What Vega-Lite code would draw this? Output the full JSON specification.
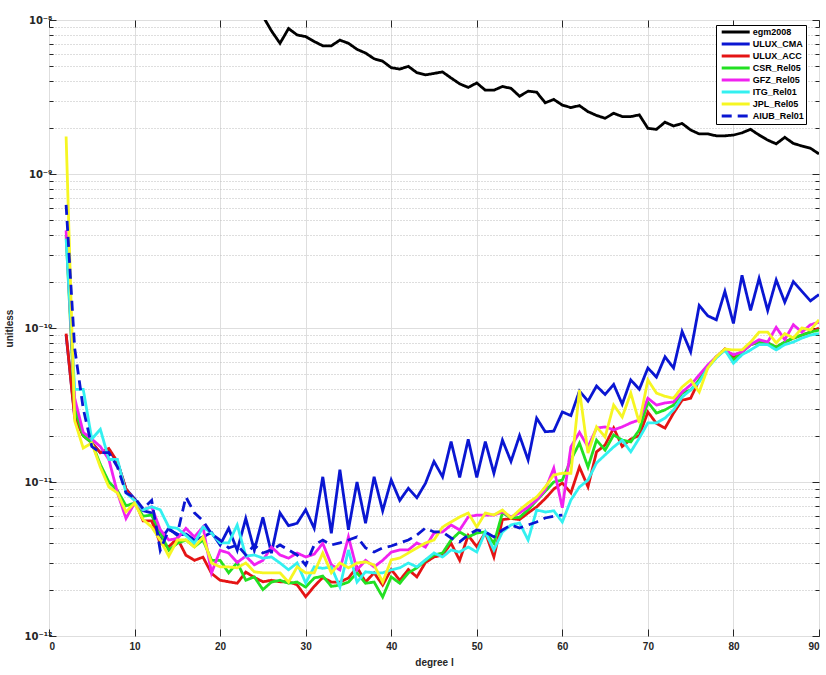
{
"$schema": "https://vega.github.io/schema/vega-lite/v6.json",
"width": 770, "height": 616,
"autosize": {"type": "none"},
"padding": {"left": 49, "top": 20, "right": 7, "bottom": 39},
"background": "white",
"config": {
  "view": {"stroke": "#262626", "strokeWidth": 1},
  "font": "Liberation Sans",
  "axis": {"labelFont": "Liberation Sans", "labelFontWeight": "bold", "labelFontSize": 10, "labelColor": "#262626", "titleFont": "Liberation Sans", "titleFontWeight": "bold", "titleFontSize": 10, "titleColor": "#262626", "tickColor": "#262626", "tickWidth": 1, "domain": false},
  "legend": {"orient": "none", "legendX": 667, "legendY": 5, "title": null, "fillColor": "white", "strokeColor": "#000000", "padding": 2, "symbolType": "M-4,0H4", "symbolSize": 49, "symbolStrokeWidth": 3, "symbolOffset": 12.7, "labelFont": "Liberation Sans", "labelFontSize": 9, "labelFontWeight": "bold", "labelColor": "#000000", "labelOffset": 12, "rowPadding": 0}
},
"data": {"values": [
{"l":20,"s":"egm2008","v":3.0e-8},{"l":21,"s":"egm2008","v":2.4e-8},{"l":22,"s":"egm2008","v":1.9e-8},{"l":23,"s":"egm2008","v":1.5e-8},{"l":24,"s":"egm2008","v":1.2e-8},{"l":25,"s":"egm2008","v":1.06e-8},{"l":26,"s":"egm2008","v":8.5e-9},{"l":27,"s":"egm2008","v":7.06e-9},{"l":28,"s":"egm2008","v":8.8e-9},{"l":29,"s":"egm2008","v":8.0e-9},{"l":30,"s":"egm2008","v":7.8e-9},{"l":31,"s":"egm2008","v":7.25e-9},{"l":32,"s":"egm2008","v":6.8e-9},{"l":33,"s":"egm2008","v":6.8e-9},{"l":34,"s":"egm2008","v":7.4e-9},{"l":35,"s":"egm2008","v":7.06e-9},{"l":36,"s":"egm2008","v":6.45e-9},{"l":37,"s":"egm2008","v":6.1e-9},{"l":38,"s":"egm2008","v":5.6e-9},{"l":39,"s":"egm2008","v":5.4e-9},{"l":40,"s":"egm2008","v":4.9e-9},{"l":41,"s":"egm2008","v":4.8e-9},{"l":42,"s":"egm2008","v":5.0e-9},{"l":43,"s":"egm2008","v":4.55e-9},{"l":44,"s":"egm2008","v":4.4e-9},{"l":45,"s":"egm2008","v":4.5e-9},{"l":46,"s":"egm2008","v":4.6e-9},{"l":47,"s":"egm2008","v":4.2e-9},{"l":48,"s":"egm2008","v":3.85e-9},{"l":49,"s":"egm2008","v":3.65e-9},{"l":50,"s":"egm2008","v":3.9e-9},{"l":51,"s":"egm2008","v":3.5e-9},{"l":52,"s":"egm2008","v":3.5e-9},{"l":53,"s":"egm2008","v":3.7e-9},{"l":54,"s":"egm2008","v":3.6e-9},{"l":55,"s":"egm2008","v":3.2e-9},{"l":56,"s":"egm2008","v":3.45e-9},{"l":57,"s":"egm2008","v":3.4e-9},{"l":58,"s":"egm2008","v":2.9e-9},{"l":59,"s":"egm2008","v":3.05e-9},{"l":60,"s":"egm2008","v":2.8e-9},{"l":61,"s":"egm2008","v":2.7e-9},{"l":62,"s":"egm2008","v":2.78e-9},{"l":63,"s":"egm2008","v":2.54e-9},{"l":64,"s":"egm2008","v":2.4e-9},{"l":65,"s":"egm2008","v":2.3e-9},{"l":66,"s":"egm2008","v":2.48e-9},{"l":67,"s":"egm2008","v":2.36e-9},{"l":68,"s":"egm2008","v":2.36e-9},{"l":69,"s":"egm2008","v":2.42e-9},{"l":70,"s":"egm2008","v":1.98e-9},{"l":71,"s":"egm2008","v":1.95e-9},{"l":72,"s":"egm2008","v":2.17e-9},{"l":73,"s":"egm2008","v":2.05e-9},{"l":74,"s":"egm2008","v":2.13e-9},{"l":75,"s":"egm2008","v":1.93e-9},{"l":76,"s":"egm2008","v":1.82e-9},{"l":77,"s":"egm2008","v":1.82e-9},{"l":78,"s":"egm2008","v":1.77e-9},{"l":79,"s":"egm2008","v":1.77e-9},{"l":80,"s":"egm2008","v":1.79e-9},{"l":81,"s":"egm2008","v":1.85e-9},{"l":82,"s":"egm2008","v":1.95e-9},{"l":83,"s":"egm2008","v":1.79e-9},{"l":84,"s":"egm2008","v":1.66e-9},{"l":85,"s":"egm2008","v":1.57e-9},{"l":86,"s":"egm2008","v":1.73e-9},{"l":87,"s":"egm2008","v":1.58e-9},{"l":88,"s":"egm2008","v":1.52e-9},{"l":89,"s":"egm2008","v":1.47e-9},{"l":90,"s":"egm2008","v":1.35e-9},
{"l":2,"s":"ULUX_CMA","v":9.0e-11},{"l":3,"s":"ULUX_CMA","v":2.7e-11},{"l":4,"s":"ULUX_CMA","v":2.0e-11},{"l":5,"s":"ULUX_CMA","v":1.8e-11},{"l":6,"s":"ULUX_CMA","v":1.55e-11},{"l":7,"s":"ULUX_CMA","v":1.6e-11},{"l":8,"s":"ULUX_CMA","v":1.35e-11},{"l":9,"s":"ULUX_CMA","v":9.0e-12},{"l":10,"s":"ULUX_CMA","v":7.8e-12},{"l":11,"s":"ULUX_CMA","v":6.5e-12},{"l":12,"s":"ULUX_CMA","v":6.3e-12},{"l":13,"s":"ULUX_CMA","v":4.2e-12},{"l":14,"s":"ULUX_CMA","v":5.0e-12},{"l":15,"s":"ULUX_CMA","v":4.5e-12},{"l":16,"s":"ULUX_CMA","v":4.6e-12},{"l":17,"s":"ULUX_CMA","v":4.2e-12},{"l":18,"s":"ULUX_CMA","v":4.4e-12},{"l":19,"s":"ULUX_CMA","v":4.7e-12},{"l":20,"s":"ULUX_CMA","v":3.9e-12},{"l":21,"s":"ULUX_CMA","v":5.0e-12},{"l":22,"s":"ULUX_CMA","v":3.6e-12},{"l":23,"s":"ULUX_CMA","v":5.8e-12},{"l":24,"s":"ULUX_CMA","v":3.6e-12},{"l":25,"s":"ULUX_CMA","v":5.9e-12},{"l":26,"s":"ULUX_CMA","v":3.45e-12},{"l":27,"s":"ULUX_CMA","v":6.3e-12},{"l":28,"s":"ULUX_CMA","v":5.2e-12},{"l":29,"s":"ULUX_CMA","v":5.4e-12},{"l":30,"s":"ULUX_CMA","v":6.6e-12},{"l":31,"s":"ULUX_CMA","v":5.0e-12},{"l":32,"s":"ULUX_CMA","v":1.08e-11},{"l":33,"s":"ULUX_CMA","v":4.65e-12},{"l":34,"s":"ULUX_CMA","v":1.2e-11},{"l":35,"s":"ULUX_CMA","v":4.9e-12},{"l":36,"s":"ULUX_CMA","v":1.0e-11},{"l":37,"s":"ULUX_CMA","v":5.4e-12},{"l":38,"s":"ULUX_CMA","v":1.08e-11},{"l":39,"s":"ULUX_CMA","v":6.5e-12},{"l":40,"s":"ULUX_CMA","v":1.03e-11},{"l":41,"s":"ULUX_CMA","v":7.6e-12},{"l":42,"s":"ULUX_CMA","v":9.1e-12},{"l":43,"s":"ULUX_CMA","v":7.9e-12},{"l":44,"s":"ULUX_CMA","v":9.8e-12},{"l":45,"s":"ULUX_CMA","v":1.36e-11},{"l":46,"s":"ULUX_CMA","v":1.08e-11},{"l":47,"s":"ULUX_CMA","v":1.83e-11},{"l":48,"s":"ULUX_CMA","v":1.07e-11},{"l":49,"s":"ULUX_CMA","v":1.89e-11},{"l":50,"s":"ULUX_CMA","v":1.07e-11},{"l":51,"s":"ULUX_CMA","v":1.83e-11},{"l":52,"s":"ULUX_CMA","v":1.14e-11},{"l":53,"s":"ULUX_CMA","v":1.87e-11},{"l":54,"s":"ULUX_CMA","v":1.36e-11},{"l":55,"s":"ULUX_CMA","v":2.0e-11},{"l":56,"s":"ULUX_CMA","v":1.39e-11},{"l":57,"s":"ULUX_CMA","v":2.6e-11},{"l":58,"s":"ULUX_CMA","v":2.12e-11},{"l":59,"s":"ULUX_CMA","v":2.14e-11},{"l":60,"s":"ULUX_CMA","v":2.85e-11},{"l":61,"s":"ULUX_CMA","v":2.7e-11},{"l":62,"s":"ULUX_CMA","v":3.9e-11},{"l":63,"s":"ULUX_CMA","v":3.35e-11},{"l":64,"s":"ULUX_CMA","v":4.2e-11},{"l":65,"s":"ULUX_CMA","v":3.7e-11},{"l":66,"s":"ULUX_CMA","v":4.3e-11},{"l":67,"s":"ULUX_CMA","v":3.2e-11},{"l":68,"s":"ULUX_CMA","v":4.6e-11},{"l":69,"s":"ULUX_CMA","v":4.0e-11},{"l":70,"s":"ULUX_CMA","v":5.5e-11},{"l":71,"s":"ULUX_CMA","v":4.8e-11},{"l":72,"s":"ULUX_CMA","v":6.5e-11},{"l":73,"s":"ULUX_CMA","v":5.5e-11},{"l":74,"s":"ULUX_CMA","v":9.5e-11},{"l":75,"s":"ULUX_CMA","v":7.0e-11},{"l":76,"s":"ULUX_CMA","v":1.4e-10},{"l":77,"s":"ULUX_CMA","v":1.2e-10},{"l":78,"s":"ULUX_CMA","v":1.13e-10},{"l":79,"s":"ULUX_CMA","v":1.73e-10},{"l":80,"s":"ULUX_CMA","v":1.07e-10},{"l":81,"s":"ULUX_CMA","v":2.2e-10},{"l":82,"s":"ULUX_CMA","v":1.3e-10},{"l":83,"s":"ULUX_CMA","v":2.1e-10},{"l":84,"s":"ULUX_CMA","v":1.3e-10},{"l":85,"s":"ULUX_CMA","v":2.05e-10},{"l":86,"s":"ULUX_CMA","v":1.47e-10},{"l":87,"s":"ULUX_CMA","v":2.0e-10},{"l":88,"s":"ULUX_CMA","v":1.73e-10},{"l":89,"s":"ULUX_CMA","v":1.5e-10},{"l":90,"s":"ULUX_CMA","v":1.65e-10},
{"l":2,"s":"ULUX_ACC","v":9.2e-11},{"l":3,"s":"ULUX_ACC","v":2.6e-11},{"l":4,"s":"ULUX_ACC","v":2.0e-11},{"l":5,"s":"ULUX_ACC","v":1.8e-11},{"l":6,"s":"ULUX_ACC","v":1.55e-11},{"l":7,"s":"ULUX_ACC","v":1.65e-11},{"l":8,"s":"ULUX_ACC","v":1.35e-11},{"l":9,"s":"ULUX_ACC","v":9.0e-12},{"l":10,"s":"ULUX_ACC","v":7.6e-12},{"l":11,"s":"ULUX_ACC","v":5.6e-12},{"l":12,"s":"ULUX_ACC","v":5.6e-12},{"l":13,"s":"ULUX_ACC","v":4.0e-12},{"l":14,"s":"ULUX_ACC","v":3.8e-12},{"l":15,"s":"ULUX_ACC","v":4.3e-12},{"l":16,"s":"ULUX_ACC","v":3.35e-12},{"l":17,"s":"ULUX_ACC","v":3.1e-12},{"l":18,"s":"ULUX_ACC","v":3.25e-12},{"l":19,"s":"ULUX_ACC","v":2.55e-12},{"l":20,"s":"ULUX_ACC","v":2.3e-12},{"l":21,"s":"ULUX_ACC","v":2.25e-12},{"l":22,"s":"ULUX_ACC","v":2.2e-12},{"l":23,"s":"ULUX_ACC","v":2.6e-12},{"l":24,"s":"ULUX_ACC","v":2.4e-12},{"l":25,"s":"ULUX_ACC","v":2.25e-12},{"l":26,"s":"ULUX_ACC","v":2.3e-12},{"l":27,"s":"ULUX_ACC","v":2.25e-12},{"l":28,"s":"ULUX_ACC","v":2.25e-12},{"l":29,"s":"ULUX_ACC","v":2.15e-12},{"l":30,"s":"ULUX_ACC","v":1.8e-12},{"l":31,"s":"ULUX_ACC","v":2.1e-12},{"l":32,"s":"ULUX_ACC","v":2.4e-12},{"l":33,"s":"ULUX_ACC","v":2.24e-12},{"l":34,"s":"ULUX_ACC","v":2.24e-12},{"l":35,"s":"ULUX_ACC","v":2.38e-12},{"l":36,"s":"ULUX_ACC","v":2.8e-12},{"l":37,"s":"ULUX_ACC","v":2.24e-12},{"l":38,"s":"ULUX_ACC","v":2.57e-12},{"l":39,"s":"ULUX_ACC","v":2.14e-12},{"l":40,"s":"ULUX_ACC","v":2.7e-12},{"l":41,"s":"ULUX_ACC","v":2.3e-12},{"l":42,"s":"ULUX_ACC","v":2.7e-12},{"l":43,"s":"ULUX_ACC","v":2.42e-12},{"l":44,"s":"ULUX_ACC","v":3.0e-12},{"l":45,"s":"ULUX_ACC","v":3.26e-12},{"l":46,"s":"ULUX_ACC","v":3.36e-12},{"l":47,"s":"ULUX_ACC","v":4.0e-12},{"l":48,"s":"ULUX_ACC","v":3.1e-12},{"l":49,"s":"ULUX_ACC","v":4.5e-12},{"l":50,"s":"ULUX_ACC","v":3.8e-12},{"l":51,"s":"ULUX_ACC","v":4.7e-12},{"l":52,"s":"ULUX_ACC","v":3.26e-12},{"l":53,"s":"ULUX_ACC","v":5.7e-12},{"l":54,"s":"ULUX_ACC","v":5.8e-12},{"l":55,"s":"ULUX_ACC","v":5.7e-12},{"l":56,"s":"ULUX_ACC","v":6.3e-12},{"l":57,"s":"ULUX_ACC","v":6.9e-12},{"l":58,"s":"ULUX_ACC","v":7.8e-12},{"l":59,"s":"ULUX_ACC","v":9.0e-12},{"l":60,"s":"ULUX_ACC","v":9.85e-12},{"l":61,"s":"ULUX_ACC","v":8.5e-12},{"l":62,"s":"ULUX_ACC","v":1.25e-11},{"l":63,"s":"ULUX_ACC","v":9.3e-12},{"l":64,"s":"ULUX_ACC","v":1.57e-11},{"l":65,"s":"ULUX_ACC","v":1.74e-11},{"l":66,"s":"ULUX_ACC","v":2.24e-11},{"l":67,"s":"ULUX_ACC","v":1.7e-11},{"l":68,"s":"ULUX_ACC","v":1.9e-11},{"l":69,"s":"ULUX_ACC","v":2.0e-11},{"l":70,"s":"ULUX_ACC","v":2.85e-11},{"l":71,"s":"ULUX_ACC","v":2.4e-11},{"l":72,"s":"ULUX_ACC","v":2.24e-11},{"l":73,"s":"ULUX_ACC","v":2.8e-11},{"l":74,"s":"ULUX_ACC","v":3.4e-11},{"l":75,"s":"ULUX_ACC","v":3.5e-11},{"l":76,"s":"ULUX_ACC","v":4.6e-11},{"l":77,"s":"ULUX_ACC","v":5.6e-11},{"l":78,"s":"ULUX_ACC","v":6.5e-11},{"l":79,"s":"ULUX_ACC","v":7.3e-11},{"l":80,"s":"ULUX_ACC","v":6.4e-11},{"l":81,"s":"ULUX_ACC","v":7.0e-11},{"l":82,"s":"ULUX_ACC","v":7.8e-11},{"l":83,"s":"ULUX_ACC","v":8.1e-11},{"l":84,"s":"ULUX_ACC","v":8.0e-11},{"l":85,"s":"ULUX_ACC","v":7.5e-11},{"l":86,"s":"ULUX_ACC","v":8.1e-11},{"l":87,"s":"ULUX_ACC","v":8.6e-11},{"l":88,"s":"ULUX_ACC","v":9.0e-11},{"l":89,"s":"ULUX_ACC","v":9.4e-11},{"l":90,"s":"ULUX_ACC","v":1.0e-10},
{"l":2,"s":"CSR_Rel05","v":4.0e-10},{"l":3,"s":"CSR_Rel05","v":3.0e-11},{"l":4,"s":"CSR_Rel05","v":2.0e-11},{"l":5,"s":"CSR_Rel05","v":1.8e-11},{"l":6,"s":"CSR_Rel05","v":1.3e-11},{"l":7,"s":"CSR_Rel05","v":1.0e-11},{"l":8,"s":"CSR_Rel05","v":8.8e-12},{"l":9,"s":"CSR_Rel05","v":7.0e-12},{"l":10,"s":"CSR_Rel05","v":7.3e-12},{"l":11,"s":"CSR_Rel05","v":6.0e-12},{"l":12,"s":"CSR_Rel05","v":6.1e-12},{"l":13,"s":"CSR_Rel05","v":4.7e-12},{"l":14,"s":"CSR_Rel05","v":3.6e-12},{"l":15,"s":"CSR_Rel05","v":4.0e-12},{"l":16,"s":"CSR_Rel05","v":4.2e-12},{"l":17,"s":"CSR_Rel05","v":3.8e-12},{"l":18,"s":"CSR_Rel05","v":4.2e-12},{"l":19,"s":"CSR_Rel05","v":3.1e-12},{"l":20,"s":"CSR_Rel05","v":3.1e-12},{"l":21,"s":"CSR_Rel05","v":2.57e-12},{"l":22,"s":"CSR_Rel05","v":3.0e-12},{"l":23,"s":"CSR_Rel05","v":2.3e-12},{"l":24,"s":"CSR_Rel05","v":2.42e-12},{"l":25,"s":"CSR_Rel05","v":2.0e-12},{"l":26,"s":"CSR_Rel05","v":2.24e-12},{"l":27,"s":"CSR_Rel05","v":2.3e-12},{"l":28,"s":"CSR_Rel05","v":2.2e-12},{"l":29,"s":"CSR_Rel05","v":2.24e-12},{"l":30,"s":"CSR_Rel05","v":2.08e-12},{"l":31,"s":"CSR_Rel05","v":2.38e-12},{"l":32,"s":"CSR_Rel05","v":2.45e-12},{"l":33,"s":"CSR_Rel05","v":2.1e-12},{"l":34,"s":"CSR_Rel05","v":2.14e-12},{"l":35,"s":"CSR_Rel05","v":2.24e-12},{"l":36,"s":"CSR_Rel05","v":2.57e-12},{"l":37,"s":"CSR_Rel05","v":2.2e-12},{"l":38,"s":"CSR_Rel05","v":2.24e-12},{"l":39,"s":"CSR_Rel05","v":1.79e-12},{"l":40,"s":"CSR_Rel05","v":2.42e-12},{"l":41,"s":"CSR_Rel05","v":2.2e-12},{"l":42,"s":"CSR_Rel05","v":2.57e-12},{"l":43,"s":"CSR_Rel05","v":2.77e-12},{"l":44,"s":"CSR_Rel05","v":3.1e-12},{"l":45,"s":"CSR_Rel05","v":3.36e-12},{"l":46,"s":"CSR_Rel05","v":3.46e-12},{"l":47,"s":"CSR_Rel05","v":4.2e-12},{"l":48,"s":"CSR_Rel05","v":4.74e-12},{"l":49,"s":"CSR_Rel05","v":4.4e-12},{"l":50,"s":"CSR_Rel05","v":4.66e-12},{"l":51,"s":"CSR_Rel05","v":4.74e-12},{"l":52,"s":"CSR_Rel05","v":4.0e-12},{"l":53,"s":"CSR_Rel05","v":6.3e-12},{"l":54,"s":"CSR_Rel05","v":5.84e-12},{"l":55,"s":"CSR_Rel05","v":5.9e-12},{"l":56,"s":"CSR_Rel05","v":6.6e-12},{"l":57,"s":"CSR_Rel05","v":7.6e-12},{"l":58,"s":"CSR_Rel05","v":8.7e-12},{"l":59,"s":"CSR_Rel05","v":1.0e-11},{"l":60,"s":"CSR_Rel05","v":1.03e-11},{"l":61,"s":"CSR_Rel05","v":1.39e-11},{"l":62,"s":"CSR_Rel05","v":1.79e-11},{"l":63,"s":"CSR_Rel05","v":1.25e-11},{"l":64,"s":"CSR_Rel05","v":1.87e-11},{"l":65,"s":"CSR_Rel05","v":1.61e-11},{"l":66,"s":"CSR_Rel05","v":2.02e-11},{"l":67,"s":"CSR_Rel05","v":1.87e-11},{"l":68,"s":"CSR_Rel05","v":1.82e-11},{"l":69,"s":"CSR_Rel05","v":2.18e-11},{"l":70,"s":"CSR_Rel05","v":3.3e-11},{"l":71,"s":"CSR_Rel05","v":2.8e-11},{"l":72,"s":"CSR_Rel05","v":2.94e-11},{"l":73,"s":"CSR_Rel05","v":3.16e-11},{"l":74,"s":"CSR_Rel05","v":3.78e-11},{"l":75,"s":"CSR_Rel05","v":3.96e-11},{"l":76,"s":"CSR_Rel05","v":4.6e-11},{"l":77,"s":"CSR_Rel05","v":5.58e-11},{"l":78,"s":"CSR_Rel05","v":6.48e-11},{"l":79,"s":"CSR_Rel05","v":7.2e-11},{"l":80,"s":"CSR_Rel05","v":6.2e-11},{"l":81,"s":"CSR_Rel05","v":7.0e-11},{"l":82,"s":"CSR_Rel05","v":7.8e-11},{"l":83,"s":"CSR_Rel05","v":8.1e-11},{"l":84,"s":"CSR_Rel05","v":8.0e-11},{"l":85,"s":"CSR_Rel05","v":7.5e-11},{"l":86,"s":"CSR_Rel05","v":8.1e-11},{"l":87,"s":"CSR_Rel05","v":8.6e-11},{"l":88,"s":"CSR_Rel05","v":9.0e-11},{"l":89,"s":"CSR_Rel05","v":9.4e-11},{"l":90,"s":"CSR_Rel05","v":9.7e-11},
{"l":2,"s":"GFZ_Rel05","v":4.3e-10},{"l":3,"s":"GFZ_Rel05","v":3.5e-11},{"l":4,"s":"GFZ_Rel05","v":2.1e-11},{"l":5,"s":"GFZ_Rel05","v":1.9e-11},{"l":6,"s":"GFZ_Rel05","v":1.7e-11},{"l":7,"s":"GFZ_Rel05","v":1.4e-11},{"l":8,"s":"GFZ_Rel05","v":8.5e-12},{"l":9,"s":"GFZ_Rel05","v":5.8e-12},{"l":10,"s":"GFZ_Rel05","v":7.3e-12},{"l":11,"s":"GFZ_Rel05","v":6.6e-12},{"l":12,"s":"GFZ_Rel05","v":6.9e-12},{"l":13,"s":"GFZ_Rel05","v":4.9e-12},{"l":14,"s":"GFZ_Rel05","v":4.2e-12},{"l":15,"s":"GFZ_Rel05","v":4.3e-12},{"l":16,"s":"GFZ_Rel05","v":5.0e-12},{"l":17,"s":"GFZ_Rel05","v":4.4e-12},{"l":18,"s":"GFZ_Rel05","v":5.1e-12},{"l":19,"s":"GFZ_Rel05","v":2.57e-12},{"l":20,"s":"GFZ_Rel05","v":3.6e-12},{"l":21,"s":"GFZ_Rel05","v":3.46e-12},{"l":22,"s":"GFZ_Rel05","v":3.0e-12},{"l":23,"s":"GFZ_Rel05","v":3.3e-12},{"l":24,"s":"GFZ_Rel05","v":2.9e-12},{"l":25,"s":"GFZ_Rel05","v":3.1e-12},{"l":26,"s":"GFZ_Rel05","v":3.78e-12},{"l":27,"s":"GFZ_Rel05","v":3.36e-12},{"l":28,"s":"GFZ_Rel05","v":3.2e-12},{"l":29,"s":"GFZ_Rel05","v":3.46e-12},{"l":30,"s":"GFZ_Rel05","v":3.26e-12},{"l":31,"s":"GFZ_Rel05","v":3.4e-12},{"l":32,"s":"GFZ_Rel05","v":4.0e-12},{"l":33,"s":"GFZ_Rel05","v":2.9e-12},{"l":34,"s":"GFZ_Rel05","v":2.69e-12},{"l":35,"s":"GFZ_Rel05","v":4.4e-12},{"l":36,"s":"GFZ_Rel05","v":2.69e-12},{"l":37,"s":"GFZ_Rel05","v":3.1e-12},{"l":38,"s":"GFZ_Rel05","v":2.81e-12},{"l":39,"s":"GFZ_Rel05","v":3.1e-12},{"l":40,"s":"GFZ_Rel05","v":3.5e-12},{"l":41,"s":"GFZ_Rel05","v":3.62e-12},{"l":42,"s":"GFZ_Rel05","v":3.62e-12},{"l":43,"s":"GFZ_Rel05","v":4.02e-12},{"l":44,"s":"GFZ_Rel05","v":3.78e-12},{"l":45,"s":"GFZ_Rel05","v":4.66e-12},{"l":46,"s":"GFZ_Rel05","v":4.74e-12},{"l":47,"s":"GFZ_Rel05","v":5.26e-12},{"l":48,"s":"GFZ_Rel05","v":4.88e-12},{"l":49,"s":"GFZ_Rel05","v":5.93e-12},{"l":50,"s":"GFZ_Rel05","v":6.1e-12},{"l":51,"s":"GFZ_Rel05","v":6.1e-12},{"l":52,"s":"GFZ_Rel05","v":6.1e-12},{"l":53,"s":"GFZ_Rel05","v":6.4e-12},{"l":54,"s":"GFZ_Rel05","v":5.93e-12},{"l":55,"s":"GFZ_Rel05","v":6.3e-12},{"l":56,"s":"GFZ_Rel05","v":6.88e-12},{"l":57,"s":"GFZ_Rel05","v":7.64e-12},{"l":58,"s":"GFZ_Rel05","v":8.9e-12},{"l":59,"s":"GFZ_Rel05","v":1.23e-11},{"l":60,"s":"GFZ_Rel05","v":6.8e-12},{"l":61,"s":"GFZ_Rel05","v":1.69e-11},{"l":62,"s":"GFZ_Rel05","v":2.1e-11},{"l":63,"s":"GFZ_Rel05","v":1.69e-11},{"l":64,"s":"GFZ_Rel05","v":2.24e-11},{"l":65,"s":"GFZ_Rel05","v":2.28e-11},{"l":66,"s":"GFZ_Rel05","v":2.18e-11},{"l":67,"s":"GFZ_Rel05","v":2.28e-11},{"l":68,"s":"GFZ_Rel05","v":2.42e-11},{"l":69,"s":"GFZ_Rel05","v":2.53e-11},{"l":70,"s":"GFZ_Rel05","v":3.5e-11},{"l":71,"s":"GFZ_Rel05","v":3.16e-11},{"l":72,"s":"GFZ_Rel05","v":3.26e-11},{"l":73,"s":"GFZ_Rel05","v":3.31e-11},{"l":74,"s":"GFZ_Rel05","v":3.84e-11},{"l":75,"s":"GFZ_Rel05","v":4.27e-11},{"l":76,"s":"GFZ_Rel05","v":4.95e-11},{"l":77,"s":"GFZ_Rel05","v":5.75e-11},{"l":78,"s":"GFZ_Rel05","v":6.5e-11},{"l":79,"s":"GFZ_Rel05","v":7.2e-11},{"l":80,"s":"GFZ_Rel05","v":6.7e-11},{"l":81,"s":"GFZ_Rel05","v":7.0e-11},{"l":82,"s":"GFZ_Rel05","v":7.8e-11},{"l":83,"s":"GFZ_Rel05","v":8.4e-11},{"l":84,"s":"GFZ_Rel05","v":8.1e-11},{"l":85,"s":"GFZ_Rel05","v":1.01e-10},{"l":86,"s":"GFZ_Rel05","v":8.4e-11},{"l":87,"s":"GFZ_Rel05","v":1.05e-10},{"l":88,"s":"GFZ_Rel05","v":9.4e-11},{"l":89,"s":"GFZ_Rel05","v":1.05e-10},{"l":90,"s":"GFZ_Rel05","v":1.09e-10},
{"l":2,"s":"ITG_Rel01","v":3.8e-10},{"l":3,"s":"ITG_Rel01","v":4.0e-11},{"l":4,"s":"ITG_Rel01","v":4.0e-11},{"l":5,"s":"ITG_Rel01","v":1.9e-11},{"l":6,"s":"ITG_Rel01","v":2.2e-11},{"l":7,"s":"ITG_Rel01","v":1.4e-11},{"l":8,"s":"ITG_Rel01","v":1.4e-11},{"l":9,"s":"ITG_Rel01","v":8.5e-12},{"l":10,"s":"ITG_Rel01","v":7.6e-12},{"l":11,"s":"ITG_Rel01","v":6.6e-12},{"l":12,"s":"ITG_Rel01","v":6.9e-12},{"l":13,"s":"ITG_Rel01","v":6.6e-12},{"l":14,"s":"ITG_Rel01","v":5.1e-12},{"l":15,"s":"ITG_Rel01","v":5.0e-12},{"l":16,"s":"ITG_Rel01","v":4.5e-12},{"l":17,"s":"ITG_Rel01","v":4.0e-12},{"l":18,"s":"ITG_Rel01","v":5.1e-12},{"l":19,"s":"ITG_Rel01","v":4.66e-12},{"l":20,"s":"ITG_Rel01","v":4.02e-12},{"l":21,"s":"ITG_Rel01","v":4.02e-12},{"l":22,"s":"ITG_Rel01","v":5.26e-12},{"l":23,"s":"ITG_Rel01","v":3.3e-12},{"l":24,"s":"ITG_Rel01","v":3.36e-12},{"l":25,"s":"ITG_Rel01","v":3.2e-12},{"l":26,"s":"ITG_Rel01","v":3.26e-12},{"l":27,"s":"ITG_Rel01","v":2.98e-12},{"l":28,"s":"ITG_Rel01","v":2.69e-12},{"l":29,"s":"ITG_Rel01","v":2.98e-12},{"l":30,"s":"ITG_Rel01","v":2.21e-12},{"l":31,"s":"ITG_Rel01","v":2.81e-12},{"l":32,"s":"ITG_Rel01","v":2.75e-12},{"l":33,"s":"ITG_Rel01","v":2.81e-12},{"l":34,"s":"ITG_Rel01","v":2.08e-12},{"l":35,"s":"ITG_Rel01","v":3.62e-12},{"l":36,"s":"ITG_Rel01","v":2.24e-12},{"l":37,"s":"ITG_Rel01","v":2.61e-12},{"l":38,"s":"ITG_Rel01","v":2.57e-12},{"l":39,"s":"ITG_Rel01","v":2.57e-12},{"l":40,"s":"ITG_Rel01","v":2.69e-12},{"l":41,"s":"ITG_Rel01","v":2.77e-12},{"l":42,"s":"ITG_Rel01","v":2.98e-12},{"l":43,"s":"ITG_Rel01","v":2.81e-12},{"l":44,"s":"ITG_Rel01","v":3.12e-12},{"l":45,"s":"ITG_Rel01","v":3.46e-12},{"l":46,"s":"ITG_Rel01","v":3.26e-12},{"l":47,"s":"ITG_Rel01","v":3.62e-12},{"l":48,"s":"ITG_Rel01","v":3.51e-12},{"l":49,"s":"ITG_Rel01","v":3.78e-12},{"l":50,"s":"ITG_Rel01","v":3.51e-12},{"l":51,"s":"ITG_Rel01","v":4.74e-12},{"l":52,"s":"ITG_Rel01","v":3.62e-12},{"l":53,"s":"ITG_Rel01","v":4.74e-12},{"l":54,"s":"ITG_Rel01","v":5.26e-12},{"l":55,"s":"ITG_Rel01","v":5.42e-12},{"l":56,"s":"ITG_Rel01","v":4.2e-12},{"l":57,"s":"ITG_Rel01","v":6.58e-12},{"l":58,"s":"ITG_Rel01","v":6.38e-12},{"l":59,"s":"ITG_Rel01","v":6.5e-12},{"l":60,"s":"ITG_Rel01","v":5.5e-12},{"l":61,"s":"ITG_Rel01","v":7.64e-12},{"l":62,"s":"ITG_Rel01","v":9.28e-12},{"l":63,"s":"ITG_Rel01","v":1.03e-11},{"l":64,"s":"ITG_Rel01","v":1.33e-11},{"l":65,"s":"ITG_Rel01","v":1.5e-11},{"l":66,"s":"ITG_Rel01","v":1.69e-11},{"l":67,"s":"ITG_Rel01","v":1.87e-11},{"l":68,"s":"ITG_Rel01","v":1.57e-11},{"l":69,"s":"ITG_Rel01","v":1.93e-11},{"l":70,"s":"ITG_Rel01","v":2.42e-11},{"l":71,"s":"ITG_Rel01","v":2.42e-11},{"l":72,"s":"ITG_Rel01","v":2.6e-11},{"l":73,"s":"ITG_Rel01","v":2.94e-11},{"l":74,"s":"ITG_Rel01","v":3.56e-11},{"l":75,"s":"ITG_Rel01","v":3.96e-11},{"l":76,"s":"ITG_Rel01","v":4.46e-11},{"l":77,"s":"ITG_Rel01","v":5.5e-11},{"l":78,"s":"ITG_Rel01","v":6.4e-11},{"l":79,"s":"ITG_Rel01","v":7.2e-11},{"l":80,"s":"ITG_Rel01","v":5.9e-11},{"l":81,"s":"ITG_Rel01","v":6.7e-11},{"l":82,"s":"ITG_Rel01","v":7.2e-11},{"l":83,"s":"ITG_Rel01","v":7.8e-11},{"l":84,"s":"ITG_Rel01","v":7.8e-11},{"l":85,"s":"ITG_Rel01","v":7.2e-11},{"l":86,"s":"ITG_Rel01","v":7.8e-11},{"l":87,"s":"ITG_Rel01","v":8.1e-11},{"l":88,"s":"ITG_Rel01","v":8.6e-11},{"l":89,"s":"ITG_Rel01","v":9.0e-11},{"l":90,"s":"ITG_Rel01","v":9.2e-11},
{"l":2,"s":"JPL_Rel05","v":1.75e-9},{"l":3,"s":"JPL_Rel05","v":2.5e-11},{"l":4,"s":"JPL_Rel05","v":1.66e-11},{"l":5,"s":"JPL_Rel05","v":1.79e-11},{"l":6,"s":"JPL_Rel05","v":1.25e-11},{"l":7,"s":"JPL_Rel05","v":9.28e-12},{"l":8,"s":"JPL_Rel05","v":8.5e-12},{"l":9,"s":"JPL_Rel05","v":6.4e-12},{"l":10,"s":"JPL_Rel05","v":7.3e-12},{"l":11,"s":"JPL_Rel05","v":5.7e-12},{"l":12,"s":"JPL_Rel05","v":5.1e-12},{"l":13,"s":"JPL_Rel05","v":4.2e-12},{"l":14,"s":"JPL_Rel05","v":3.3e-12},{"l":15,"s":"JPL_Rel05","v":4.2e-12},{"l":16,"s":"JPL_Rel05","v":4.2e-12},{"l":17,"s":"JPL_Rel05","v":3.78e-12},{"l":18,"s":"JPL_Rel05","v":4.4e-12},{"l":19,"s":"JPL_Rel05","v":2.98e-12},{"l":20,"s":"JPL_Rel05","v":2.81e-12},{"l":21,"s":"JPL_Rel05","v":2.81e-12},{"l":22,"s":"JPL_Rel05","v":2.77e-12},{"l":23,"s":"JPL_Rel05","v":2.98e-12},{"l":24,"s":"JPL_Rel05","v":2.61e-12},{"l":25,"s":"JPL_Rel05","v":2.57e-12},{"l":26,"s":"JPL_Rel05","v":2.57e-12},{"l":27,"s":"JPL_Rel05","v":2.57e-12},{"l":28,"s":"JPL_Rel05","v":2.24e-12},{"l":29,"s":"JPL_Rel05","v":2.81e-12},{"l":30,"s":"JPL_Rel05","v":2.57e-12},{"l":31,"s":"JPL_Rel05","v":2.57e-12},{"l":32,"s":"JPL_Rel05","v":3.46e-12},{"l":33,"s":"JPL_Rel05","v":2.57e-12},{"l":34,"s":"JPL_Rel05","v":2.98e-12},{"l":35,"s":"JPL_Rel05","v":2.77e-12},{"l":36,"s":"JPL_Rel05","v":2.98e-12},{"l":37,"s":"JPL_Rel05","v":3.03e-12},{"l":38,"s":"JPL_Rel05","v":2.89e-12},{"l":39,"s":"JPL_Rel05","v":2.24e-12},{"l":40,"s":"JPL_Rel05","v":3.12e-12},{"l":41,"s":"JPL_Rel05","v":3.21e-12},{"l":42,"s":"JPL_Rel05","v":3.46e-12},{"l":43,"s":"JPL_Rel05","v":3.73e-12},{"l":44,"s":"JPL_Rel05","v":4.02e-12},{"l":45,"s":"JPL_Rel05","v":4.2e-12},{"l":46,"s":"JPL_Rel05","v":5.1e-12},{"l":47,"s":"JPL_Rel05","v":5.5e-12},{"l":48,"s":"JPL_Rel05","v":5.93e-12},{"l":49,"s":"JPL_Rel05","v":6.29e-12},{"l":50,"s":"JPL_Rel05","v":5.1e-12},{"l":51,"s":"JPL_Rel05","v":6.29e-12},{"l":52,"s":"JPL_Rel05","v":6.11e-12},{"l":53,"s":"JPL_Rel05","v":6.58e-12},{"l":54,"s":"JPL_Rel05","v":5.84e-12},{"l":55,"s":"JPL_Rel05","v":6.58e-12},{"l":56,"s":"JPL_Rel05","v":7.31e-12},{"l":57,"s":"JPL_Rel05","v":7.99e-12},{"l":58,"s":"JPL_Rel05","v":9.28e-12},{"l":59,"s":"JPL_Rel05","v":1.11e-11},{"l":60,"s":"JPL_Rel05","v":1.14e-11},{"l":61,"s":"JPL_Rel05","v":1.14e-11},{"l":62,"s":"JPL_Rel05","v":3.96e-11},{"l":63,"s":"JPL_Rel05","v":1.54e-11},{"l":64,"s":"JPL_Rel05","v":2.28e-11},{"l":65,"s":"JPL_Rel05","v":1.96e-11},{"l":66,"s":"JPL_Rel05","v":3.16e-11},{"l":67,"s":"JPL_Rel05","v":2.64e-11},{"l":68,"s":"JPL_Rel05","v":3.78e-11},{"l":69,"s":"JPL_Rel05","v":2.42e-11},{"l":70,"s":"JPL_Rel05","v":4.6e-11},{"l":71,"s":"JPL_Rel05","v":3.78e-11},{"l":72,"s":"JPL_Rel05","v":3.6e-11},{"l":73,"s":"JPL_Rel05","v":3.5e-11},{"l":74,"s":"JPL_Rel05","v":4.14e-11},{"l":75,"s":"JPL_Rel05","v":4.6e-11},{"l":76,"s":"JPL_Rel05","v":3.84e-11},{"l":77,"s":"JPL_Rel05","v":5.5e-11},{"l":78,"s":"JPL_Rel05","v":6.5e-11},{"l":79,"s":"JPL_Rel05","v":7.3e-11},{"l":80,"s":"JPL_Rel05","v":7.2e-11},{"l":81,"s":"JPL_Rel05","v":7.2e-11},{"l":82,"s":"JPL_Rel05","v":8.1e-11},{"l":83,"s":"JPL_Rel05","v":9.4e-11},{"l":84,"s":"JPL_Rel05","v":9.4e-11},{"l":85,"s":"JPL_Rel05","v":8.0e-11},{"l":86,"s":"JPL_Rel05","v":9.2e-11},{"l":87,"s":"JPL_Rel05","v":8.6e-11},{"l":88,"s":"JPL_Rel05","v":1.0e-10},{"l":89,"s":"JPL_Rel05","v":9.7e-11},{"l":90,"s":"JPL_Rel05","v":1.13e-10},
{"l":2,"s":"AIUB_Rel01","v":6.3e-10},{"l":3,"s":"AIUB_Rel01","v":7.4e-11},{"l":4,"s":"AIUB_Rel01","v":3.0e-11},{"l":5,"s":"AIUB_Rel01","v":1.7e-11},{"l":6,"s":"AIUB_Rel01","v":1.55e-11},{"l":7,"s":"AIUB_Rel01","v":1.55e-11},{"l":8,"s":"AIUB_Rel01","v":1.25e-11},{"l":9,"s":"AIUB_Rel01","v":8.5e-12},{"l":10,"s":"AIUB_Rel01","v":7.9e-12},{"l":11,"s":"AIUB_Rel01","v":6.7e-12},{"l":12,"s":"AIUB_Rel01","v":7.6e-12},{"l":13,"s":"AIUB_Rel01","v":3.6e-12},{"l":14,"s":"AIUB_Rel01","v":4.9e-12},{"l":15,"s":"AIUB_Rel01","v":4.6e-12},{"l":16,"s":"AIUB_Rel01","v":8.0e-12},{"l":17,"s":"AIUB_Rel01","v":6.3e-12},{"l":18,"s":"AIUB_Rel01","v":5.6e-12},{"l":19,"s":"AIUB_Rel01","v":4.6e-12},{"l":20,"s":"AIUB_Rel01","v":4.2e-12},{"l":21,"s":"AIUB_Rel01","v":3.73e-12},{"l":22,"s":"AIUB_Rel01","v":3.9e-12},{"l":23,"s":"AIUB_Rel01","v":3.36e-12},{"l":24,"s":"AIUB_Rel01","v":3.9e-12},{"l":25,"s":"AIUB_Rel01","v":3.46e-12},{"l":26,"s":"AIUB_Rel01","v":3.62e-12},{"l":27,"s":"AIUB_Rel01","v":3.9e-12},{"l":28,"s":"AIUB_Rel01","v":3.62e-12},{"l":29,"s":"AIUB_Rel01","v":3.36e-12},{"l":30,"s":"AIUB_Rel01","v":2.89e-12},{"l":31,"s":"AIUB_Rel01","v":3.9e-12},{"l":32,"s":"AIUB_Rel01","v":4.2e-12},{"l":33,"s":"AIUB_Rel01","v":3.9e-12},{"l":34,"s":"AIUB_Rel01","v":4.02e-12},{"l":35,"s":"AIUB_Rel01","v":4.2e-12},{"l":36,"s":"AIUB_Rel01","v":4.4e-12},{"l":37,"s":"AIUB_Rel01","v":3.73e-12},{"l":38,"s":"AIUB_Rel01","v":3.51e-12},{"l":39,"s":"AIUB_Rel01","v":3.73e-12},{"l":40,"s":"AIUB_Rel01","v":3.84e-12},{"l":41,"s":"AIUB_Rel01","v":4.02e-12},{"l":42,"s":"AIUB_Rel01","v":4.2e-12},{"l":43,"s":"AIUB_Rel01","v":4.53e-12},{"l":44,"s":"AIUB_Rel01","v":5.03e-12},{"l":45,"s":"AIUB_Rel01","v":4.74e-12},{"l":46,"s":"AIUB_Rel01","v":4.74e-12},{"l":47,"s":"AIUB_Rel01","v":4.33e-12},{"l":48,"s":"AIUB_Rel01","v":4.08e-12},{"l":49,"s":"AIUB_Rel01","v":4.53e-12},{"l":50,"s":"AIUB_Rel01","v":4.88e-12},{"l":51,"s":"AIUB_Rel01","v":4.74e-12},{"l":52,"s":"AIUB_Rel01","v":4.4e-12},{"l":53,"s":"AIUB_Rel01","v":4.88e-12},{"l":54,"s":"AIUB_Rel01","v":5.26e-12},{"l":55,"s":"AIUB_Rel01","v":5.03e-12},{"l":56,"s":"AIUB_Rel01","v":5.26e-12},{"l":57,"s":"AIUB_Rel01","v":5.5e-12},{"l":58,"s":"AIUB_Rel01","v":5.84e-12},{"l":59,"s":"AIUB_Rel01","v":6.0e-12},{"l":60,"s":"AIUB_Rel01","v":6.1e-12}
]},
"layer": [
 {
  "transform": [{"filter": "datum.s === 'egm2008'"}],
  "mark": {"type": "line", "clip": true, "strokeWidth": 2.8},
  "encoding": {
   "x": {"field": "l", "type": "quantitative", "scale": {"domain": [0, 90], "nice": false, "zero": false},
         "axis": {"orient": "top", "title": null, "labels": false, "grid": false, "ticks": true, "tickSize": -7, "values": [0,10,20,30,40,50,60,70,80,90]}},
   "y": {"field": "v", "type": "quantitative", "scale": {"type": "log", "domain": [1e-12, 1e-8], "nice": false},
         "axis": {"orient": "right", "title": null, "labels": false, "grid": false, "ticks": true,
                  "values": [1e-12,2e-12,3e-12,4e-12,5e-12,6e-12,7e-12,8e-12,9e-12,1e-11,2e-11,3e-11,4e-11,5e-11,6e-11,7e-11,8e-11,9e-11,1e-10,2e-10,3e-10,4e-10,5e-10,6e-10,7e-10,8e-10,9e-10,1e-9,2e-9,3e-9,4e-9,5e-9,6e-9,7e-9,8e-9,9e-9,1e-8],
                  "tickSize": {"condition": {"test": "indexof([1e-12,1e-11,1e-10,1e-9,1e-8], datum.value) >= 0", "value": -7}, "value": -4}}},
   "color": {"field": "s", "type": "nominal", "title": null, "scale": {"domain": ["egm2008","ULUX_CMA","ULUX_ACC","CSR_Rel05","GFZ_Rel05","ITG_Rel01","JPL_Rel05","AIUB_Rel01"], "range": ["#000000","#0a16d2","#e41414","#22e022","#f022f0","#33f0f0","#f6f622","#0a16d2"]}},
   "strokeDash": {"field": "s", "type": "nominal", "title": null, "scale": {"domain": ["egm2008","ULUX_CMA","ULUX_ACC","CSR_Rel05","GFZ_Rel05","ITG_Rel01","JPL_Rel05","AIUB_Rel01"], "range": [[1,0],[1,0],[1,0],[1,0],[1,0],[1,0],[1,0],[10,6]]}}
  }
 },
 {
  "transform": [{"filter": "datum.s !== 'egm2008'"}],
  "mark": {"type": "line", "clip": true, "strokeWidth": 2.8},
  "encoding": {
   "x": {"field": "l", "type": "quantitative", "title": "degree l",
         "axis": {"orient": "bottom", "grid": true, "gridColor": "#dedede", "ticks": true, "tickSize": -7, "labelPadding": 12, "titlePadding": 6, "values": [0,10,20,30,40,50,60,70,80,90]}},
   "y": {"field": "v", "type": "quantitative", "title": "unitless",
         "axis": {"orient": "left", "grid": true, "ticks": true,
                  "values": [1e-12,2e-12,3e-12,4e-12,5e-12,6e-12,7e-12,8e-12,9e-12,1e-11,2e-11,3e-11,4e-11,5e-11,6e-11,7e-11,8e-11,9e-11,1e-10,2e-10,3e-10,4e-10,5e-10,6e-10,7e-10,8e-10,9e-10,1e-9,2e-9,3e-9,4e-9,5e-9,6e-9,7e-9,8e-9,9e-9,1e-8],
                  "tickSize": {"condition": {"test": "indexof([1e-12,1e-11,1e-10,1e-9,1e-8], datum.value) >= 0", "value": -7}, "value": -4},
                  "gridDash": {"condition": {"test": "indexof([1e-12,1e-11,1e-10,1e-9,1e-8], datum.value) >= 0", "value": []}, "value": [1,2]},
                  "gridColor": {"condition": {"test": "indexof([1e-12,1e-11,1e-10,1e-9,1e-8], datum.value) >= 0", "value": "#dedede"}, "value": "#bdbdbd"},
                  "labelFont": "DejaVu Sans", "labelFontSize": 10,
                  "labelExpr": "datum.value == 1e-8 ? '10⁻⁸' : datum.value == 1e-9 ? '10⁻⁹' : datum.value == 1e-10 ? '10⁻¹⁰' : datum.value == 1e-11 ? '10⁻¹¹' : datum.value == 1e-12 ? '10⁻¹²' : ''",
                  "labelPadding": 4, "titlePadding": 10}},
   "color": {"field": "s", "type": "nominal", "title": null},
   "strokeDash": {"field": "s", "type": "nominal", "title": null}
  }
 }
],
"resolve": {"axis": {"x": "independent", "y": "independent"}}
}
